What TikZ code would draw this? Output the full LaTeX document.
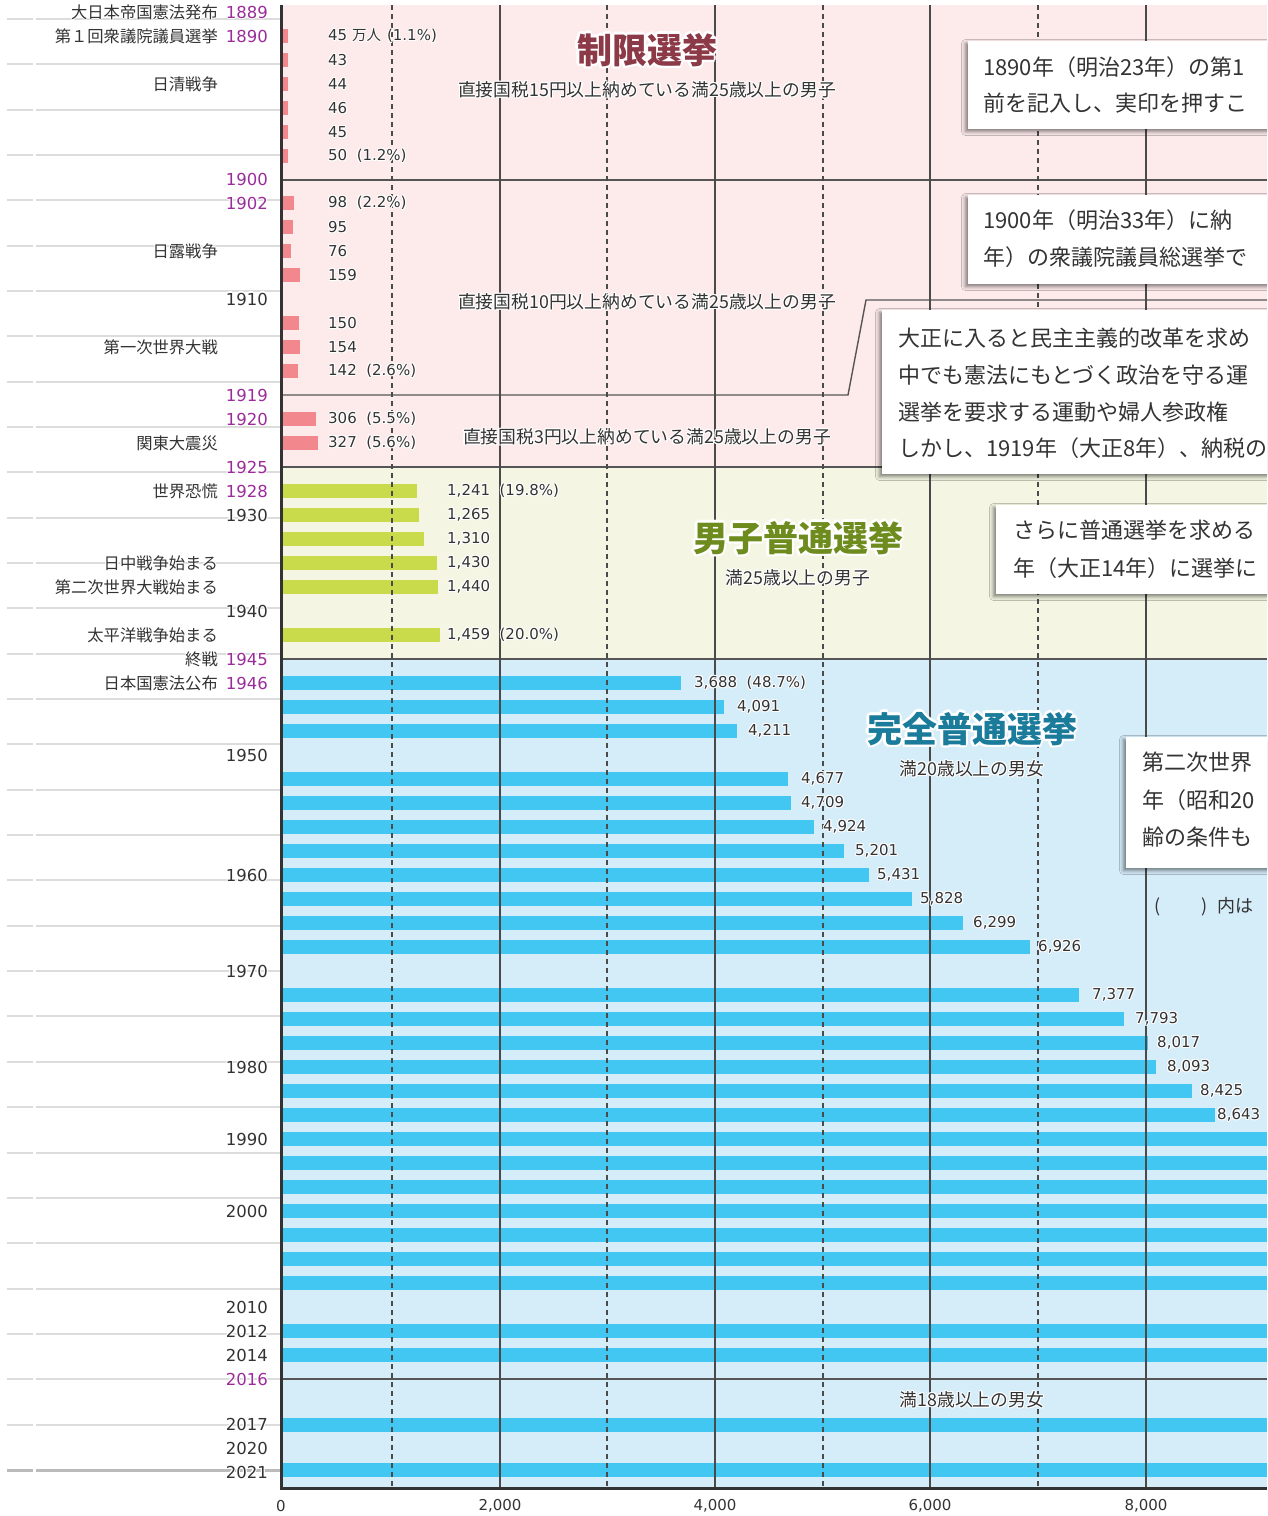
\documentclass[tikz,border=0pt]{standalone}
\usepackage{fontspec}
\setmainfont{Noto Sans CJK JP}
\newfontfamily\dvs{DejaVu Sans}
\usetikzlibrary{shadows.blur}
\definecolor{txt}{HTML}{333333}
\definecolor{pur}{HTML}{9B2D9B}
\definecolor{pinkbg}{HTML}{FDEAEB}
\definecolor{pinkbar}{HTML}{F2888D}
\definecolor{grnbg}{HTML}{F4F6E3}
\definecolor{grnbar}{HTML}{C9DB4A}
\definecolor{bluebg}{HTML}{D5ECF9}
\definecolor{bluebar}{HTML}{42C6F2}
\definecolor{gridc}{HTML}{4A4A4A}
\definecolor{sepc}{HTML}{555555}
\definecolor{axc}{HTML}{333333}
\definecolor{lgray}{HTML}{DCDCDC}
\definecolor{ttlred}{HTML}{8C3A47}
\definecolor{ttlgrn}{HTML}{6E8B1E}
\definecolor{ttlblu}{HTML}{1A7B9B}
\newbox\hlbx
\newcommand\hlcp[2]{\rlap{\kern#1\raise#2\hbox{\color{white}\copy\hlbx}}}
\newcommand\hlg[3]{\leavevmode\setbox\hlbx=\hbox{#3}%
  \hlcp{#1}{0pt}\hlcp{-#1}{0pt}\hlcp{0pt}{#1}\hlcp{0pt}{-#1}%
  \hlcp{#2}{#2}\hlcp{-#2}{#2}\hlcp{#2}{-#2}\hlcp{-#2}{-#2}\box\hlbx}
\newcommand\hl[1]{\hlg{1.1pt}{0.8pt}{#1}}
\newcommand\pc[1]{\hspace{9.5pt}(#1\%)}
\newcommand\jp[1]{{\rmfamily\fontsize{14.5}{18}\selectfont #1}}
\begin{document}
\begin{tikzpicture}[x=1pt,y=-1pt,
  jl/.style={font=\fontsize{16.3}{18}\selectfont, text=txt, inner sep=0pt, anchor=east},
  yl/.style={font=\dvs\fontsize{16.5}{18}\selectfont, text=txt, inner sep=0pt, anchor=east},
  vl/.style={font=\dvs\fontsize{15}{18}\selectfont, text=txt, inner sep=0pt, anchor=west},
  tick/.style={font=\dvs\fontsize{15}{18}\selectfont, text=txt, inner sep=0pt},
  sub/.style={font=\fontsize{17.8}{20}\selectfont, text=txt, inner sep=0pt},
  ttl/.style={font={\fontsize{35}{36}\selectfont\bfseries}, inner sep=0pt},
  btxt/.style={font=\fontsize{22}{24}\selectfont, text=txt, inner sep=0pt, anchor=west},
  callout/.style={fill=white, blur shadow={shadow xshift=-2.5pt, shadow yshift=-2.5pt, shadow blur radius=4pt, shadow opacity=50}},
  sepl/.style={draw=sepc, line width=1.4pt},
  gsolid/.style={draw=gridc, line width=1.2pt},
  gdash/.style={draw=gridc, line width=1.2pt, dash pattern=on 5pt off 4pt},
  leftline/.style={draw=lgray, line width=2pt},
]
\useasboundingbox (0,0) rectangle (1267,1516);
\clip (0,0) rectangle (1267,1516);
\fill[white] (0,0) rectangle (1267,1516);
% backgrounds
\fill[pinkbg] (281,5) rectangle (1267,467);
\fill[grnbg] (281,467) rectangle (1267,659);
\fill[bluebg] (281,659) rectangle (1267,1488);
% left guide lines
\foreach \k in {0,...,31}{
  \pgfmathsetmacro\yy{19+45.34*\k}
  \draw[leftline] (7,\yy) -- (33,\yy) (36,\yy) -- (281,\yy);
}
\draw[draw=lgray!85!black, line width=3pt] (7,1470) -- (33,1470) (36,1470) -- (281,1470);
% bars
\foreach \y/\v in {36/45,60/43,84/44,108/46,132/45,156/50,203/98,227/95,251/76,275/159,323/150,347/154,371/142,419/306,443/327}
  \fill[pinkbar] (282,\y-7) rectangle ({283+\v*0.107875},\y+7);
\foreach \y/\v in {491/1241,515/1265,539/1310,563/1430,587/1440,635/1459}
  \fill[grnbar] (282,\y-7) rectangle ({283+\v*0.107875},\y+7);
\foreach \y/\v in {683/3688,707/4091,731/4211,779/4677,803/4709,827/4924,851/5201,875/5431,899/5828,923/6299,947/6926,995/7377,1019/7793,1043/8017,1067/8093,1091/8425,1115/8643}
  \fill[bluebar] (282,\y-7) rectangle ({283+\v*0.107875},\y+7);
\foreach \y in {1139,1163,1187,1211,1235,1259,1283,1331,1355,1425,1470}
  \fill[bluebar] (282,\y-7) rectangle (1267,\y+7);
% separators
\draw[sepl] (281,180) -- (1267,180);
\draw[sepl] (281,467) -- (1267,467);
\draw[sepl] (281,659) -- (1267,659);
\draw[sepl] (281,1379) -- (1267,1379);
\coordinate (k1) at (281,395);
\coordinate (k2) at (848,395);
\coordinate (k3) at (866,300);
\coordinate (k4) at (1267,300);
\draw[sepl] (k1) -- (k2) -- (k3) -- (k4);
% vertical grid
\foreach \x in {500,715,930,1146} \draw[gsolid] (\x,5) -- (\x,1488);
\foreach \x in {392,607,823,1038} \draw[gdash] (\x,5) -- (\x,1488);
% callout boxes
\path[callout] (968,41) rectangle (1300,129);
\path[callout] (968,195) rectangle (1300,284);
\path[callout] (882,310) rectangle (1300,474);
\path[callout] (996,505) rectangle (1300,594);
\path[callout] (1126,737) rectangle (1300,868);
\node[btxt] (b1a) at (983,67) {1890年（明治23年）の第1};
\node[btxt] (b1b) at (983,103) {前を記入し、実印を押すこ};
\node[btxt] (b2a) at (983,220) {1900年（明治33年）に納};
\node[btxt] (b2b) at (983,257) {年）の衆議院議員総選挙で};
\node[btxt] (b3a) at (898,338) {大正に入ると民主主義的改革を求め};
\node[btxt] (b3b) at (898,375) {中でも憲法にもとづく政治を守る運};
\node[btxt] (b3c) at (898,412) {選挙を要求する運動や婦人参政権};
\node[btxt] (b3d) at (898,448) {しかし、1919年（大正8年）、納税の};
\node[btxt] (b4a) at (1013,530) {さらに普通選挙を求める};
\node[btxt] (b4b) at (1013,568) {年（大正14年）に選挙に};
\node[btxt] (b5a) at (1142,762) {第二次世界};
\node[btxt] (b5b) at (1142,800) {年（昭和20};
\node[btxt] (b5c) at (1142,837) {齢の条件も};
\node[font=\fontsize{18}{20}\selectfont, text=txt, inner sep=0pt, anchor=west] (note) at (1154,907) {(\hspace{41pt})\hspace{10pt}内は};
% titles and conditions
\node[ttl, text=ttlred] (t1) at (647,50) {\hlg{2.5pt}{1.8pt}{制限選挙}};
\node[ttl, text=ttlgrn] (t2) at (798,538) {\hlg{2.5pt}{1.8pt}{男子普通選挙}};
\node[ttl, text=ttlblu] (t3) at (972,729) {\hlg{2.5pt}{1.8pt}{完全普通選挙}};
\node[sub] (s1) at (647,90) {\hl{直接国税15円以上納めている満25歳以上の男子}};
\node[sub] (s2) at (647,302) {\hl{直接国税10円以上納めている満25歳以上の男子}};
\node[sub] (s3) at (647,437) {\hl{直接国税3円以上納めている満25歳以上の男子}};
\node[sub] (s4) at (798,578) {\hl{満25歳以上の男子}};
\node[sub] (s5) at (972,769) {\hl{満20歳以上の男女}};
\node[sub] (s6) at (972,1400) {\hl{満18歳以上の男女}};
% value labels: pink
\node[vl] (p1) at (328,36) {\hl{45 \jp{万人}\hspace{6pt}(1.1\%)}};
\node[vl] (p2) at (328,60) {\hl{43}};
\node[vl] (p3) at (328,84) {\hl{44}};
\node[vl] (p4) at (328,108) {\hl{46}};
\node[vl] (p5) at (328,132) {\hl{45}};
\node[vl] (p6) at (328,156) {\hl{50\pc{1.2}}};
\node[vl] (p7) at (328,203) {\hl{98\pc{2.2}}};
\node[vl] (p8) at (328,227) {\hl{95}};
\node[vl] (p9) at (328,251) {\hl{76}};
\node[vl] (p10) at (328,275) {\hl{159}};
\node[vl] (p11) at (328,323) {\hl{150}};
\node[vl] (p12) at (328,347) {\hl{154}};
\node[vl] (p13) at (328,371) {\hl{142\pc{2.6}}};
\node[vl] (p14) at (328,419) {\hl{306\pc{5.5}}};
\node[vl] (p15) at (328,443) {\hl{327\pc{5.6}}};
% green
\node[vl] (g1) at (447,491) {\hl{1,241\pc{19.8}}};
\node[vl] (g2) at (447,515) {\hl{1,265}};
\node[vl] (g3) at (447,539) {\hl{1,310}};
\node[vl] (g4) at (447,563) {\hl{1,430}};
\node[vl] (g5) at (447,587) {\hl{1,440}};
\node[vl] (g6) at (447,635) {\hl{1,459\pc{20.0}}};
% blue
\node[vl] (c1) at (694,683) {\hl{3,688\pc{48.7}}};
\node[vl] (c2) at (737,707) {\hl{4,091}};
\node[vl] (c3) at (748,731) {\hl{4,211}};
\node[vl] (c4) at (801,779) {\hl{4,677}};
\node[vl] (c5) at (801,803) {\hl{4,709}};
\node[vl] (c6) at (823,827) {\hl{4,924}};
\node[vl] (c7) at (855,851) {\hl{5,201}};
\node[vl] (c8) at (877,875) {\hl{5,431}};
\node[vl] (c9) at (920,899) {\hl{5,828}};
\node[vl] (c10) at (973,923) {\hl{6,299}};
\node[vl] (c11) at (1038,947) {\hl{6,926}};
\node[vl] (c12) at (1092,995) {\hl{7,377}};
\node[vl] (c13) at (1135,1019) {\hl{7,793}};
\node[vl] (c14) at (1157,1043) {\hl{8,017}};
\node[vl] (c15) at (1167,1067) {\hl{8,093}};
\node[vl] (c16) at (1200,1091) {\hl{8,425}};
\node[vl] (c17) at (1217,1115) {\hl{8,643}};
% axes
\draw[axc, line width=3pt] (281,5) -- (281,1489.5);
\draw[axc, line width=3pt] (279.5,1488) -- (1267,1488);
\node[tick] (x0) at (281,1506) {0};
\node[tick] (x2) at (500,1506) {2,000};
\node[tick] (x4) at (715,1506) {4,000};
\node[tick] (x6) at (930,1506) {6,000};
\node[tick] (x8) at (1146,1506) {8,000};
% left: events
\node[jl] (e1) at (218,12) {\hl{大日本帝国憲法発布}};
\node[jl] (e2) at (218,36) {\hl{第１回衆議院議員選挙}};
\node[jl] (e3) at (218,84) {\hl{日清戦争}};
\node[jl] (e4) at (218,251) {\hl{日露戦争}};
\node[jl] (e5) at (218,347) {\hl{第一次世界大戦}};
\node[jl] (e6) at (218,443) {\hl{関東大震災}};
\node[jl] (e7) at (218,491) {\hl{世界恐慌}};
\node[jl] (e8) at (218,563) {\hl{日中戦争始まる}};
\node[jl] (e9) at (218,587) {\hl{第二次世界大戦始まる}};
\node[jl] (e10) at (218,635) {\hl{太平洋戦争始まる}};
\node[jl] (e11) at (218,659) {\hl{終戦}};
\node[jl] (e12) at (218,683) {\hl{日本国憲法公布}};
% left: years
\foreach \y/\t/\c [count=\i] in {12/1889/pur,36/1890/pur,179/1900/pur,203/1902/pur,299/1910/txt,395/1919/pur,419/1920/pur,467/1925/pur,491/1928/pur,515/1930/txt,611/1940/txt,659/1945/pur,683/1946/pur,755/1950/txt,875/1960/txt,971/1970/txt,1067/1980/txt,1139/1990/txt,1211/2000/txt,1307/2010/txt,1331/2012/txt,1355/2014/txt,1379/2016/pur,1424/2017/txt,1448/2020/txt,1472/2021/txt}
  \node[yl, text=\c] (yr\i) at (268,\y) {\hl{\t}};
\end{tikzpicture}
\end{document}
